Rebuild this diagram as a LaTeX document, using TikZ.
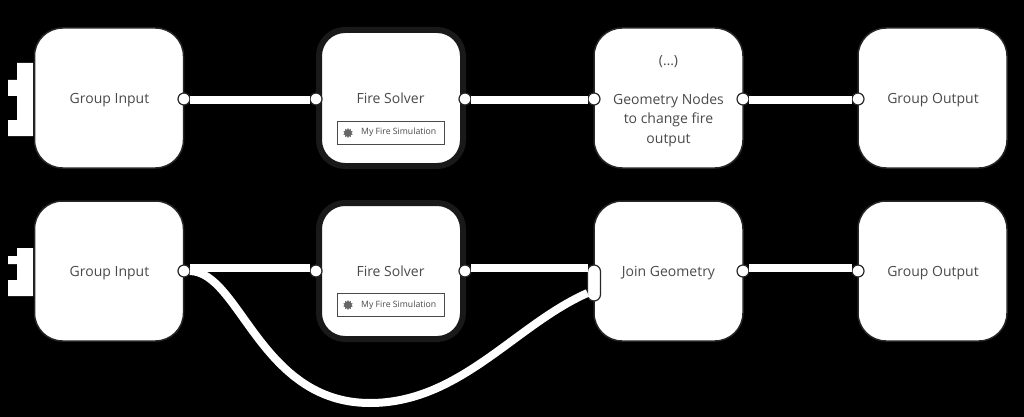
\documentclass[tikz,border=0pt]{standalone}
\usepackage{fontspec}
\setmainfont{Open Sans}
\usetikzlibrary{shapes.geometric}

\definecolor{inkgray}{HTML}{4A4A4A}
\definecolor{edgegray}{HTML}{262626}

\tikzset{
    blockbox/.style={draw=edgegray, fill=white, line width=1.5pt, rounded corners=28pt,
        minimum width=149pt, minimum height=140pt, inner sep=0pt, outer sep=0pt},
    solverbox/.style={blockbox, draw=black!90, line width=6pt, minimum width=144pt, minimum height=136pt, rounded corners=26pt},
    socket/.style={circle, draw=edgegray, fill=white, line width=1.2pt, minimum size=12pt, inner sep=0pt, outer sep=0pt},
    longsocket/.style={draw=edgegray, fill=white, line width=1.2pt, rounded corners=6.5pt,
        minimum width=13pt, minimum height=36pt, inner sep=0pt, outer sep=0pt},
    wire/.style={draw=white, line width=8pt},
    simbox/.style={draw=inkgray, fill=white, line width=1.2pt, minimum width=107pt, minimum height=23pt, inner sep=0pt},
    simtext/.style={text=inkgray, font=\fontsize{8.7}{10}\selectfont, inner sep=0pt},
    simicon/.style={star, star points=10, star point ratio=1.5, fill=black!60, minimum size=10pt, inner sep=0pt},
    titletext/.style={text=inkgray, align=center, font=\fontsize{14}{19.5}\selectfont, inner sep=0pt}
}

\begin{document}
\begin{tikzpicture}[x=1pt, y=-1pt]
    \useasboundingbox (0,0) rectangle (1024,417);
    \fill[black] (0,0) rectangle (1024,417);

    % draw input stubs
    \fill[white] (17,63) -- (33,63) -- (33,136) -- (8,136) -- (8,120) -- (17,120) -- (17,96) -- (8,96) -- (8,80) -- (17,80) -- cycle;
    \fill[white] (17,248) -- (33,248) -- (33,296) -- (8,296) -- (8,280) -- (17,280) -- (17,264) -- (8,264) -- (8,256) -- (17,256) -- cycle;

    % draw boxes
    \foreach \row/\y in {A/98, B/271} {
        \node[blockbox] (input\row) at (109,\y) {};
        \node[solverbox] (solver\row) at (391,\y) {};
        \node[blockbox] (geo\row) at (668.5,\y) {};
        \node[blockbox] (output\row) at (932.5,\y) {};
    }

    % draw texts
    \foreach \row/\y in {A/104, B/276} {
        \node[titletext, anchor=base] (inputtext\row) at (109.5,\y) {Group Input};
        \node[titletext, anchor=base] (solvertext\row) at (390.5,\y) {Fire Solver};
        \node[titletext, anchor=base] (outputtext\row) at (933,\y) {Group Output};
        \node[simbox] (sim\row) at (391,\y+29) {};
        \node[simicon] (icon\row) at (348,\y+29) {};
        \node[simtext, anchor=base west] (simlabel\row) at (361,\y+31) {My Fire Simulation};
    }
    \node[titletext] (geotextA) at (668.5,101) {(…)\\ \\Geometry Nodes\\to change fire\\output};
    \node[titletext, anchor=base] (jointextB) at (668.5,276) {Join Geometry};

    % draw sockets
    \foreach \name/\x in {inputOut/184, solverIn/316, solverOut/465, geoIn/594, geoOut/743, outputIn/858} {
        \node[socket] (\name A) at (\x,99) {};
    }
    \foreach \name/\x in {inputOut/184, solverIn/316, solverOut/465, geoOut/743, outputIn/858} {
        \node[socket] (\name B) at (\x,271) {};
    }
    \node[longsocket] (joinInB) at (594,283) {};

    % draw wires
    \foreach \from/\to in {inputOutA/solverInA, solverOutA/geoInA, geoOutA/outputInA}
      \draw[wire] ([yshift=-1pt]\from.east) -- ([yshift=-1pt]\to.west);
    \draw[wire] ([yshift=3pt]inputOutB.east) -- ([yshift=3pt]solverInB.west);
    \draw[wire] ([yshift=3pt]solverOutB.east) -- ([yshift=15pt]joinInB.west);
    \draw[wire] ([yshift=3pt]geoOutB.east) -- ([yshift=3pt]outputInB.west);
    \draw[wire] (inputOutB.east) .. controls (240,272) and (260,403) .. (370,403)
        .. controls (460,403) and (515,325) .. ([yshift=-10pt]joinInB.west);
\end{tikzpicture}
\end{document}
